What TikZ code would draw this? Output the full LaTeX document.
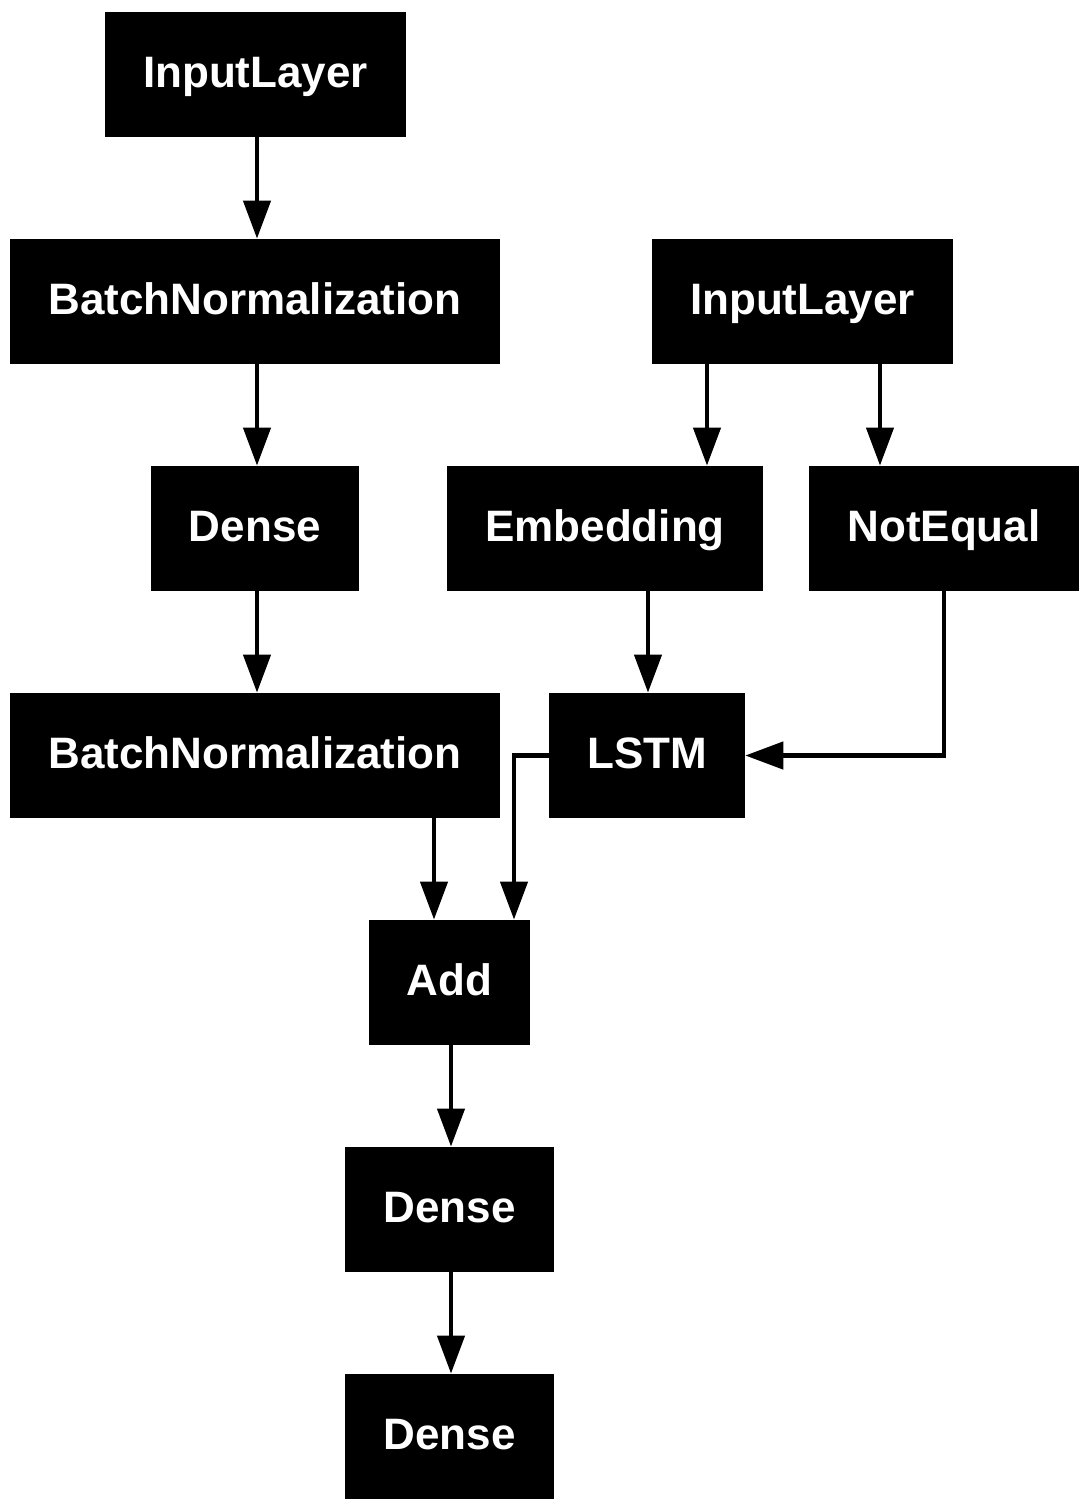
\documentclass[tikz,border=0pt]{standalone}
\usepackage{fontspec}
\setmainfont{Liberation Sans}
\usetikzlibrary{arrows.meta}
\begin{document}
\begin{tikzpicture}[x=0.5pt,y=-0.5pt,line join=miter,
	layer/.style={fill=black,text=white,inner xsep=19pt,inner ysep=0pt,minimum height=62.5pt,
		text height=15.75pt,text depth=2.75pt,font=\fontsize{22}{26}\selectfont\bfseries},
	arr/.style={-{Triangle[length=19pt,width=13.5pt]},line width=2.2pt}]
	\useasboundingbox (0,0) rectangle (1089,1512);
	% left branch
	\node[layer] (inA) at (255.5,74.5) {InputLayer};
	\node[layer] (bnA) at (255,301.5) {BatchNormalization};
	\node[layer] (dnA) at (255,528.5) {Dense};
	\node[layer] (bnB) at (255,755.5) {BatchNormalization};
	% right branch
	\node[layer] (inB) at (802.5,301.5) {InputLayer};
	\node[layer] (emb) at (605,528.5) {Embedding};
	\node[layer] (neq) at (944,528.5) {NotEqual};
	\node[layer] (lstm) at (647,755.5) {LSTM};
	% merge
	\node[layer] (add) at (449.5,982.5) {Add};
	\node[layer] (dnB) at (449.5,1209.5) {Dense};
	\node[layer] (dnC) at (449.5,1436.5) {Dense};
	\draw[arr] (inA.south -| 257,0) -- (bnA.north -| 257,0);
	\draw[arr] (bnA.south -| 257,0) -- (dnA.north -| 257,0);
	\draw[arr] (dnA.south -| 257,0) -- (bnB.north -| 257,0);
	\draw[arr] (inB.south -| 707,0) -- (emb.north -| 707,0);
	\draw[arr] (inB.south -| 880,0) -- (neq.north -| 880,0);
	\draw[arr] (emb.south -| 648,0) -- (lstm.north -| 648,0);
	\draw[arr] (neq.south) |- (lstm.east);
	\draw[arr] (bnB.south -| 434,0) -- (add.north -| 434,0);
	\draw[arr] (lstm.west) -| (add.north -| 514,0);
	\draw[arr] (add.south -| 451,0) -- (dnB.north -| 451,0);
	\draw[arr] (dnB.south -| 451,0) -- (dnC.north -| 451,0);
\end{tikzpicture}
\end{document}
